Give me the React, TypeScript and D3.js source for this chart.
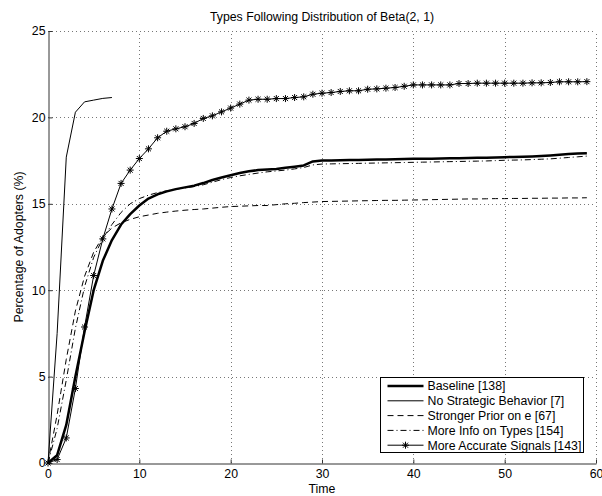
import React, { useEffect, useRef } from "react";
import * as d3 from "d3";

// time steps 0..59
const times = d3.range(0, 60);

const baseline = [
  0, 0.45, 2.2, 5.0, 7.6, 10.0, 11.7, 12.9, 13.8, 14.4,
  14.9, 15.3, 15.55, 15.72, 15.85, 15.95, 16.05, 16.2, 16.38, 16.52,
  16.65, 16.78, 16.88, 16.95, 16.98, 17.02, 17.08, 17.15, 17.22, 17.45,
  17.5, 17.51, 17.52, 17.53, 17.54, 17.55, 17.56, 17.57, 17.58, 17.59,
  17.6, 17.6, 17.61, 17.62, 17.63, 17.64, 17.65, 17.66, 17.67, 17.68,
  17.7, 17.71, 17.72, 17.74, 17.77, 17.8, 17.84, 17.88, 17.91, 17.93,
];

const noStrategic = [0, 7.5, 17.7, 20.3, 20.9, 21.0, 21.1, 21.15];

const strongerPrior = [
  0, 2.8, 6.0, 8.8, 10.8, 12.2, 13.1, 13.6, 13.9, 14.1,
  14.25, 14.35, 14.45, 14.52, 14.58, 14.63, 14.67, 14.7, 14.75, 14.8,
  14.84, 14.86, 14.88, 14.9, 14.9, 14.95, 15.0, 15.03, 15.07, 15.1,
  15.13, 15.14, 15.15, 15.16, 15.17, 15.18, 15.19, 15.2, 15.2, 15.21,
  15.22, 15.23, 15.24, 15.25, 15.26, 15.27, 15.28, 15.28, 15.29, 15.3,
  15.3, 15.31, 15.31, 15.32, 15.32, 15.33, 15.33, 15.34, 15.34, 15.35,
];

const moreInfo = [
  0, 2.0, 4.8, 7.8, 10.2, 11.9, 13.0, 13.8, 14.5, 15.0,
  15.3, 15.5, 15.65, 15.75, 15.85, 15.92, 16.0, 16.1, 16.25, 16.4,
  16.52, 16.62, 16.7, 16.78, 16.85, 16.9, 16.95, 17.02, 17.1, 17.25,
  17.3, 17.31, 17.32, 17.33, 17.34, 17.35, 17.36, 17.37, 17.38, 17.39,
  17.4, 17.41, 17.42, 17.43, 17.44, 17.45, 17.46, 17.47, 17.48, 17.5,
  17.52, 17.53, 17.54, 17.56, 17.58, 17.6, 17.64, 17.68, 17.72, 17.76,
];

const accurateSignals = [
  0, 0.2, 1.45, 4.31, 7.87, 10.85, 12.97, 14.7, 16.18, 16.95,
  17.62, 18.18, 18.82, 19.2, 19.34, 19.46, 19.65, 19.94, 20.09, 20.32,
  20.54, 20.77, 21.0, 21.05, 21.05, 21.09, 21.09, 21.15, 21.19, 21.34,
  21.4, 21.44, 21.5, 21.54, 21.54, 21.63, 21.65, 21.69, 21.73, 21.8,
  21.88, 21.88, 21.88, 21.88, 21.88, 21.96, 21.96, 21.98, 21.98, 21.98,
  21.98, 21.98, 21.98, 22.0, 22.0, 22.02, 22.06, 22.06, 22.06, 22.07,
];

const xTicks = [0, 10, 20, 30, 40, 50, 60];
const yTicks = [0, 5, 10, 15, 20, 25];

const legendLabels = [
  "Baseline [138]",
  "No Strategic Behavior [7]",
  "Stronger Prior on e [67]",
  "More Info on Types [154]",
  "More Accurate Signals [143]",
];

const FONT = "'Liberation Sans', Arial, Helvetica, sans-serif";
const FS = 12.3;

const starPath = (r: number) => {
  const d = r * 0.72;
  return `M${-r},0H${r}M0,${-r}V${r}M${-d},${-d}L${d},${d}M${-d},${d}L${d},${-d}`;
};

const App = () => {
  const ref = useRef<SVGSVGElement>(null);

  useEffect(() => {
    const width = 602;
    const height = 496;
    const margin = { top: 31, right: 6, bottom: 33, left: 48 };

    const svg = d3.select(ref.current);
    svg.selectAll("*").remove();

    const x = d3.scaleLinear().domain([0, 60]).range([margin.left, width - margin.right]);
    const y = d3.scaleLinear().domain([0, 25]).range([height - margin.bottom, margin.top]);

    svg.append("rect").attr("width", width).attr("height", height).attr("fill", "#fff");

    // dotted grid
    const grid = svg.append("g")
      .attr("stroke", "#777")
      .attr("stroke-width", 1)
      .attr("stroke-dasharray", "1,3");
    grid.selectAll("line.gx")
      .data(xTicks.filter(d => d > 0))
      .enter().append("line")
      .attr("x1", d => Math.round(x(d)) + 0.5)
      .attr("x2", d => Math.round(x(d)) + 0.5)
      .attr("y1", y(0))
      .attr("y2", y(25));
    grid.selectAll("line.gy")
      .data(yTicks.filter(d => d > 0))
      .enter().append("line")
      .attr("y1", d => Math.round(y(d)) + 0.5)
      .attr("y2", d => Math.round(y(d)) + 0.5)
      .attr("x1", x(0))
      .attr("x2", x(60));

    // axes (ticks inside, MATLAB style)
    const xAxis = svg.append("g")
      .attr("transform", `translate(0,${Math.round(y(0)) + 0.5})`)
      .call(d3.axisBottom(x).tickValues(xTicks).tickSizeInner(-4).tickSizeOuter(0).tickPadding(6));
    const yAxis = svg.append("g")
      .attr("transform", `translate(${Math.round(x(0)) + 0.5},0)`)
      .call(d3.axisLeft(y).tickValues(yTicks).tickSizeInner(-4).tickSizeOuter(0).tickPadding(3));
    [xAxis, yAxis].forEach(a => {
      a.select(".domain").attr("stroke", "#333");
      a.selectAll(".tick line").attr("stroke", "#333");
      a.selectAll("text")
        .attr("font-family", FONT)
        .attr("font-size", FS)
        .attr("fill", "#000");
    });

    // lines
    const line = d3.line<number>()
      .x((_, i) => x(times[i]))
      .y(d => y(d));

    const series = [
      { data: baseline, width: 2.5, dash: null },
      { data: noStrategic, width: 1, dash: null },
      { data: strongerPrior, width: 1, dash: "6,4" },
      { data: moreInfo, width: 1, dash: "6,3,1,3" },
      { data: accurateSignals, width: 1, dash: null },
    ];

    series.forEach(s => {
      svg.append("path")
        .datum(s.data)
        .attr("fill", "none")
        .attr("stroke", "#000")
        .attr("stroke-width", s.width)
        .attr("stroke-dasharray", s.dash)
        .attr("stroke-linejoin", "round")
        .attr("d", line);
    });

    svg.append("g")
      .selectAll("path")
      .data(accurateSignals)
      .enter().append("path")
      .attr("transform", (d, i) => `translate(${x(times[i])},${y(d)})`)
      .attr("d", starPath(3.5))
      .attr("stroke", "#000")
      .attr("stroke-width", 1)
      .attr("fill", "none");

    // title + axis labels
    svg.append("text")
      .attr("x", (x(0) + x(60)) / 2)
      .attr("y", 21)
      .attr("text-anchor", "middle")
      .attr("font-family", FONT)
      .attr("font-size", FS)
      .text("Types Following Distribution of Beta(2, 1)");

    svg.append("text")
      .attr("x", (x(0) + x(60)) / 2)
      .attr("y", 493)
      .attr("text-anchor", "middle")
      .attr("font-family", FONT)
      .attr("font-size", FS)
      .text("Time");

    svg.append("text")
      .attr("transform", `translate(23,${(y(0) + y(25)) / 2}) rotate(-90)`)
      .attr("text-anchor", "middle")
      .attr("font-family", FONT)
      .attr("font-size", FS)
      .text("Percentage of Adopters (%)");

    // legend
    const lg = { x: 380.5, y: 377.5, w: 203, h: 75, row: 14.8 };
    const legend = svg.append("g");
    legend.append("rect")
      .attr("x", lg.x).attr("y", lg.y)
      .attr("width", lg.w).attr("height", lg.h)
      .attr("fill", "#fff").attr("stroke", "#000").attr("stroke-width", 1);

    legendLabels.forEach((label, i) => {
      const s = series[i];
      const cy = lg.y + 8.5 + i * lg.row;
      legend.append("line")
        .attr("x1", lg.x + 7).attr("x2", lg.x + 43)
        .attr("y1", cy).attr("y2", cy)
        .attr("stroke", "#000")
        .attr("stroke-width", s.width)
        .attr("stroke-dasharray", s.dash);
      if (i === 4) {
        legend.append("path")
          .attr("transform", `translate(${lg.x + 25},${cy})`)
          .attr("d", starPath(3.5))
          .attr("stroke", "#000")
          .attr("fill", "none");
      }
      legend.append("text")
        .attr("x", lg.x + 47)
        .attr("y", cy + 4.3)
        .attr("font-family", FONT)
        .attr("font-size", FS)
        .text(label);
    });
  }, []);

  return (
    <svg
      ref={ref}
      width={602}
      height={496}
      style={{ position: "absolute", left: 0, top: 0 }}
    ></svg>
  );
};

export default App;
